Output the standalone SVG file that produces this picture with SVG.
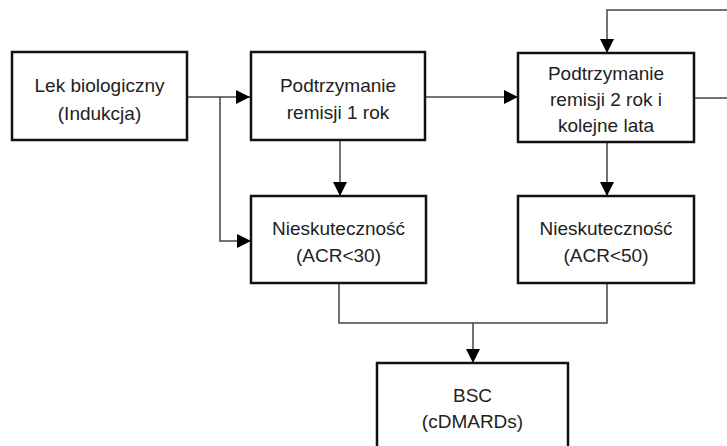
<svg xmlns="http://www.w3.org/2000/svg" width="727" height="446" viewBox="0 0 727 446">
<style>
.box{fill:#fff;stroke:#111;stroke-width:2.5}
.t{font-family:"Liberation Sans",Arial,sans-serif;font-size:19px;fill:#222;text-anchor:middle;dominant-baseline:central}
.c{fill:none;stroke:#444;stroke-width:1.5}
</style>
<defs>
<marker id="ah" markerWidth="14" markerHeight="14" viewBox="0 0 14 14" refX="14" refY="7" orient="auto" markerUnits="userSpaceOnUse">
<path d="M0,0 L14,7 L0,14 Z" fill="#000"/>
</marker>
</defs>
<rect width="727" height="446" fill="#fff"/>
<g id="connectors">
<path class="c" d="M187,97 H250" marker-end="url(#ah)"/>
<path class="c" d="M220,97 V241 H251" marker-end="url(#ah)"/>
<path class="c" d="M425,97 H518" marker-end="url(#ah)"/>
<path class="c" d="M340,140 V196" marker-end="url(#ah)"/>
<path class="c" d="M607,142 V196" marker-end="url(#ah)"/>
<path class="c" d="M727,10 H607 V53" marker-end="url(#ah)"/>
<path class="c" d="M694,98 H727"/>
<path class="c" d="M339,283 V323 H607 V283"/>
<path class="c" d="M473,323 V363" marker-end="url(#ah)"/>
</g>
<g id="n1">
<rect class="box" x="12" y="52" width="175" height="88"/>
<text class="t" x="99.5" y="85">Lek biologiczny</text>
<text class="t" x="99.5" y="113">(Indukcja)</text>
</g>
<g id="n2">
<rect class="box" x="251" y="52" width="174" height="88"/>
<text class="t" x="338" y="85">Podtrzymanie</text>
<text class="t" x="338" y="112">remisji 1 rok</text>
</g>
<g id="n3">
<rect class="box" x="518" y="53" width="176" height="89"/>
<text class="t" x="606" y="73">Podtrzymanie</text>
<text class="t" x="606" y="99">remisji 2 rok i</text>
<text class="t" x="606" y="125">kolejne lata</text>
</g>
<g id="n4">
<rect class="box" x="251" y="196" width="175" height="87"/>
<text class="t" x="338.5" y="228">Nieskuteczność</text>
<text class="t" x="338.5" y="255">(ACR&lt;30)</text>
</g>
<g id="n5">
<rect class="box" x="518" y="196" width="176" height="87"/>
<text class="t" x="606" y="228">Nieskuteczność</text>
<text class="t" x="606" y="255">(ACR&lt;50)</text>
</g>
<g id="n6">
<rect class="box" x="377" y="363" width="191" height="100"/>
<text class="t" x="472.5" y="395">BSC</text>
<text class="t" x="472.5" y="421">(cDMARDs)</text>
</g>
</svg>
